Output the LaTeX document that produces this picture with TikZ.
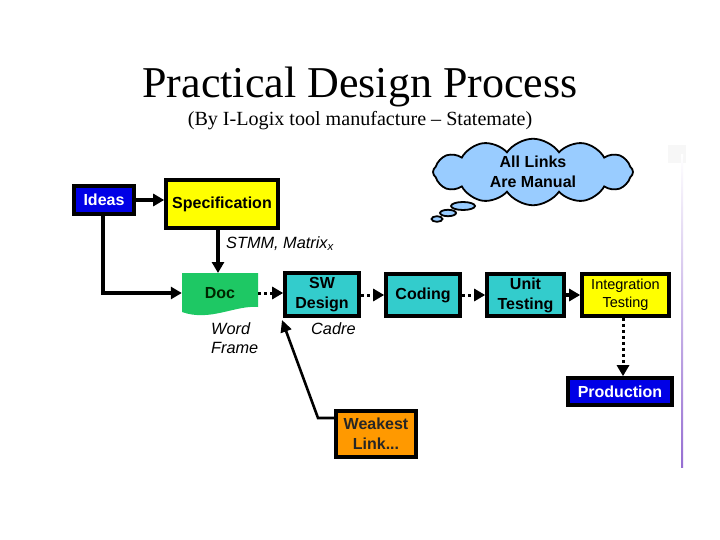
\documentclass[tikz,border=0pt]{standalone}
\usepackage{fontspec}
\setmainfont{Liberation Serif}
\setsansfont{Liberation Sans}
\usetikzlibrary{arrows.meta,shapes.symbols}
\definecolor{boxblue}{RGB}{0,0,230}
\definecolor{boxyellow}{RGB}{255,255,0}
\definecolor{docgreen}{RGB}{30,200,100}
\definecolor{boxcyan}{RGB}{51,204,204}
\definecolor{boxorange}{RGB}{255,153,0}
\definecolor{cloudblue}{RGB}{153,204,255}
\definecolor{edgepurple}{RGB}{150,110,210}
\begin{document}
\begin{tikzpicture}[x=1pt,y=-1pt,
  box/.style={draw=black, line width=3.6pt, align=center, inner sep=0pt,
    font=\sffamily\bfseries\fontsize{16}{20}\selectfont},
  plainbox/.style={box, font=\sffamily\fontsize{14.5}{18.5}\selectfont},
  arr/.style={line width=3.2pt, -{Triangle[length=11pt,width=12pt]}},
  dotarr/.style={line width=3pt, dash pattern=on 3pt off 3pt, -{Triangle[length=11pt,width=12pt]}},
  thinarr/.style={line width=2.6pt, -{Triangle[length=12pt,width=11pt]}},
  lbl/.style={font=\sffamily\itshape\fontsize{16.3}{19.5}\selectfont, inner sep=0pt},
  bubble/.style={fill=cloudblue, draw=black, line width=1.8pt}]
\fill[white] (0,0) rectangle (720,540);
\useasboundingbox (0,0) rectangle (720,540);

% title
\node[anchor=base, inner sep=0pt, font=\fontsize{44}{46}\selectfont] (title) at (360,98) {Practical Design Process};
\node[anchor=base, inner sep=0pt, font=\fontsize{20.1}{22}\selectfont] (subtitle) at (360,126) {(By I-Logix tool manufacture -- Statemate)};

% right decoration
\fill[black!3] (668,145) rectangle (686,163);
\shade[top color=white, bottom color=edgepurple] (681,155) rectangle (683,467);

% cloud
\node[cloud, cloud puffs=12, cloud puff arc=110, aspect=4, fill=cloudblue, draw=black, line width=1.8pt,
  minimum width=200pt, minimum height=48pt, inner sep=0pt, align=center,
  font=\sffamily\bfseries\fontsize{16}{19.5}\selectfont] (cloud) at (533,172) {All Links\\Are Manual};
\filldraw[bubble] (463,206) ellipse [x radius=12pt, y radius=4pt];
\filldraw[bubble] (448,213) ellipse [x radius=8pt, y radius=3.2pt];
\filldraw[bubble] (437,219) ellipse [x radius=5.5pt, y radius=2.8pt];

% boxes
\node[box, fill=boxblue, text=white, minimum width=60pt, minimum height=28pt] (ideas) at (104,200) {Ideas};
\node[box, fill=boxyellow, minimum width=112pt, minimum height=48pt] (spec) at (222,204) {Specification};

\fill[docgreen] (182,273) -- (258,273) -- (258,307) .. controls (235,305) and (210,322) .. (182,312) -- cycle;
\node[inner sep=0pt, minimum width=76pt, minimum height=40pt, font=\sffamily\bfseries\fontsize{16}{20}\selectfont, text=black!85!green] (doc) at (220,293) {Doc};

\node[box, fill=boxcyan, minimum width=74pt, minimum height=43pt] (sw) at (322,294.5) {SW\\Design};
\node[box, fill=boxcyan, minimum width=74pt, minimum height=42pt] (coding) at (423,295) {Coding};
\node[box, fill=boxcyan, minimum width=77pt, minimum height=42pt] (unit) at (525.5,295) {Unit\\Testing};
\node[plainbox, fill=boxyellow, minimum width=87pt, minimum height=42pt] (integ) at (625.5,295) {Integration\\Testing};
\node[box, fill=boxblue, text=white, minimum width=104pt, minimum height=27pt] (prod) at (620,391.5) {Production};
\node[box, fill=boxorange, text=black!85, minimum width=80pt, minimum height=46pt] (weak) at (376,434) {Weakest\\Link...};

% labels
\node[lbl, anchor=base west] (stmm) at (226,248) {STMM, Matrix\textsubscript{x}};
\node[lbl, anchor=base west] (word) at (211,334) {Word};
\node[lbl, anchor=base west] (frame) at (211,353) {Frame};
\node[lbl, anchor=base west] (cadre) at (311,334) {Cadre};

% connectors
\draw[arr] (ideas.east) -- (ideas.east -| spec.west);
\draw[arr] (spec.south -| 218,0) -- (218,273);
\draw[arr] (103,215) |- (doc.west);
\draw[dotarr] (doc.east) -- (sw.west |- doc.east);
\draw[dotarr] (sw.east |- coding.west) -- (coding.west);
\draw[dotarr] (coding.east) -- (unit.west);
\draw[arr] (unit.east) -- (integ.west);
\draw[dotarr] (integ.south -| 623,0) -- (prod.north -| 623,0);
\coordinate (bend) at (318,418);
\coordinate (swtip) at (282,320);
\draw[thinarr] (weak.west |- bend) -- (bend) -- (swtip);
\end{tikzpicture}
\end{document}
